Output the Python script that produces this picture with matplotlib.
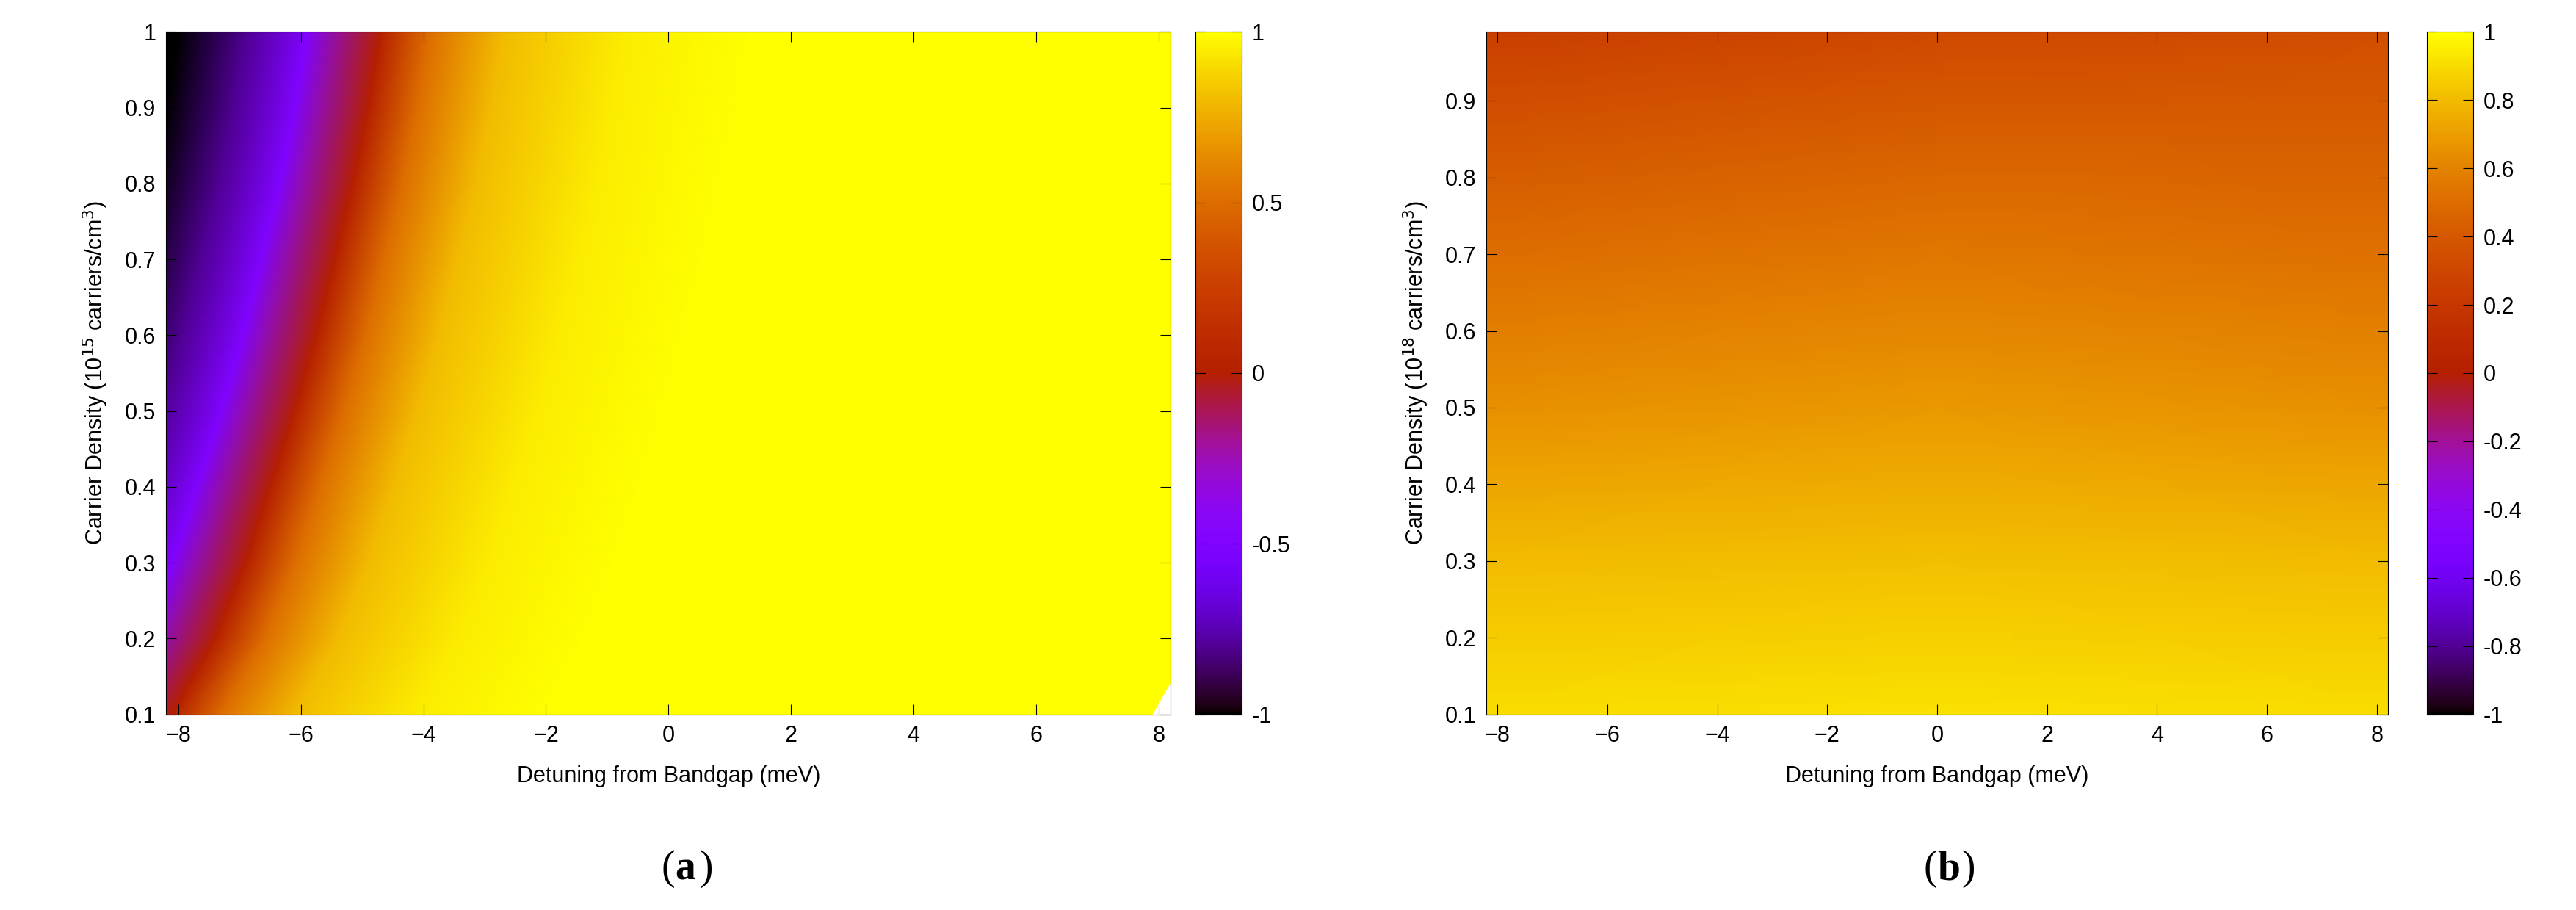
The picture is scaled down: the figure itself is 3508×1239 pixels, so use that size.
import numpy as np
import matplotlib
matplotlib.use("Agg")
import matplotlib.pyplot as plt

plt.rcParams['font.family'] = ['Liberation Sans', 'DejaVu Sans']

# Panel (a): zero-crossing position per density, and profile across it
a_d = [0.1, 0.2, 0.3, 0.4, 0.5, 0.6, 0.7, 0.8, 0.9, 1.0]
a_zero_x = [-8.1, -7.4, -6.9, -6.5, -6.1, -5.75, -5.45, -5.15, -4.9, -4.7]
a_offset = [-10, -3.3, -2.2, -1.2, 0, 0.8, 2, 4, 6, 16]
a_value = [-1, -1, -0.8, -0.5, 0, 0.5, 0.8, 0.95, 1, 1]
# Panel (b)
b_x = [-8.2, 0, 8.2]
b_d = [0.1, 0.3, 0.5, 0.7, 0.99]
b_z = [
    [0.9, 0.92, 0.9],
    [0.8, 0.82, 0.8],
    [0.65, 0.68, 0.65],
    [0.5, 0.55, 0.52],
    [0.25, 0.32, 0.35],
]
x_ticks = [-8, -6, -4, -2, 0, 2, 4, 6, 8]

fig = plt.figure(figsize=(35.08, 12.39), dpi=100)
fs = 22

def panel(rect, crect, X, Y, Z, yticks, ylim, cticks, ylabel):
    ax = fig.add_axes(rect)
    m = ax.pcolormesh(X, Y, Z, cmap='gnuplot', vmin=-1, vmax=1, shading='gouraud')
    ax.set_xlim(-8.2, 8.2)
    ax.set_ylim(*ylim)
    ax.set_xticks(x_ticks)
    ax.set_yticks(yticks)
    ax.set_yticklabels([f"{t:g}" for t in yticks])
    ax.set_xlabel("Detuning from Bandgap (meV)", fontsize=fs, labelpad=18)
    ax.set_ylabel(ylabel, fontsize=fs, labelpad=14)
    ax.tick_params(direction='in', top=True, right=True, labelsize=fs, length=10, pad=10)
    cax = fig.add_axes(crect)
    cb = fig.colorbar(m, cax=cax, ticks=cticks)
    cb.ax.set_yticklabels([f"{t:g}" for t in cticks])
    cb.ax.tick_params(direction='in', left=True, right=True, labelsize=fs, length=10, pad=10)
    return ax

aX = np.array(a_zero_x)[:, None] + np.array(a_offset)[None, :]
aY = np.repeat(np.array(a_d)[:, None], len(a_offset), axis=1)
aZ = np.repeat(np.array(a_value)[None, :], len(a_d), axis=0)
panel([0.0645, 0.215, 0.39, 0.75], [0.464, 0.215, 0.018, 0.75], aX, aY, aZ,
      [0.1, 0.2, 0.3, 0.4, 0.5, 0.6, 0.7, 0.8, 0.9, 1.0], (0.1, 1.0),
      [-1, -0.5, 0, 0.5, 1], r"Carrier Density (10$^{15}$ carriers/cm$^3$)")

bX, bY = np.meshgrid(b_x, b_d)
panel([0.577, 0.215, 0.35, 0.75], [0.942, 0.215, 0.018, 0.75], bX, bY, np.array(b_z),
      [0.1, 0.2, 0.3, 0.4, 0.5, 0.6, 0.7, 0.8, 0.9], (0.1, 0.99),
      [-1, -0.8, -0.6, -0.4, -0.2, 0, 0.2, 0.4, 0.6, 0.8, 1],
      r"Carrier Density (10$^{18}$ carriers/cm$^3$)")

for xc, letter in [(0.262, "a"), (0.752, "b")]:
    fig.text(xc, 0.045, "(", fontsize=40, family='Liberation Serif', ha='right', va='center')
    fig.text(xc, 0.045, letter, fontsize=40, family='Liberation Serif', weight='bold', ha='left', va='center')
    fig.text(xc + 0.0095, 0.045, ")", fontsize=40, family='Liberation Serif', ha='left', va='center')

fig.savefig("out.png", dpi=100)
